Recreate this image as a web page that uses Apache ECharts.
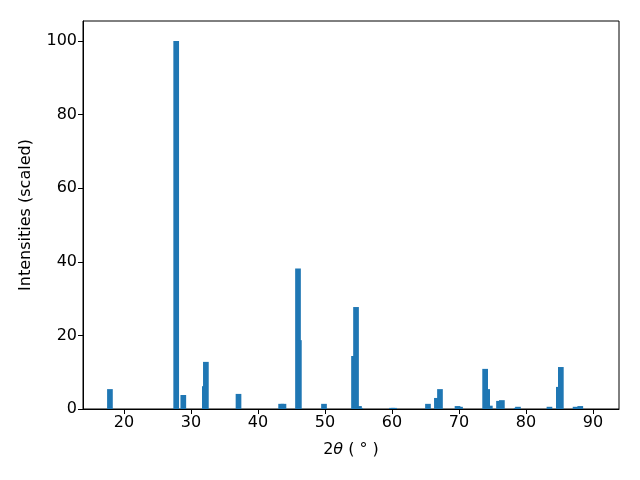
<!DOCTYPE html>
<html>
<head>
<meta charset="utf-8">
<script src="https://cdn.jsdelivr.net/npm/echarts@6/dist/echarts.min.js"></script>
<style>
html,body{margin:0;padding:0;background:#fff;}
#chart{width:640px;height:480px;}
</style>
</head>
<body>
<div id="chart"></div>
<script>
// Peak positions (2-theta, degrees)
const positions = [17.9, 27.79, 28.85, 32.07, 32.22, 37.09, 43.45, 43.8, 45.97, 46.1,
  49.85, 54.33, 54.63, 55.07, 55.2, 60.0, 60.3, 65.37, 66.7, 67.16,
  69.78, 70.15, 73.9, 74.2, 74.6, 75.97, 76.4, 78.6, 78.8, 83.5,
  84.9, 85.2, 87.4, 88.1];
// Scaled intensities
const intensities = [5.4, 100, 3.8, 6.2, 12.8, 4.1, 1.4, 1.4, 38.2, 18.7,
  1.4, 14.4, 27.7, 0.8, 0.3, 0.3, 0.3, 1.4, 3.0, 5.4,
  0.8, 0.6, 10.9, 5.4, 0.9, 2.2, 2.4, 0.3, 0.6, 0.6,
  6.0, 11.4, 0.6, 0.8];
const xTicks = [20, 30, 40, 50, 60, 70, 80, 90];
const yTicks = [0, 20, 40, 60, 80, 100];

const barWidth = 0.85;
const data = positions.map((p, i) => [p, intensities[i]]);
const font = 'DejaVu Sans';

const chart = echarts.init(document.getElementById('chart'), null, {renderer: 'canvas'});
chart.setOption({
  animation: false,
  backgroundColor: '#fff',
  grid: {left: 83, right: 21, top: 21, bottom: 71, show: true, borderColor: '#000', borderWidth: 1, backgroundColor: 'transparent'},
  xAxis: {
    type: 'value', min: 13.88, max: 93.88,
    name: '2{i|θ} ( ° )', nameLocation: 'middle', nameGap: 33,
    nameTextStyle: {fontFamily: font, fontSize: 16, color: '#000',
      rich: {i: {fontFamily: font, fontSize: 16, fontStyle: 'italic', color: '#000'}}},
    axisLine: {show: true, lineStyle: {color: '#000', width: 1}},
    axisTick: {show: true, length: 5, inside: false, customValues: xTicks, lineStyle: {color: '#000'}},
    axisLabel: {customValues: xTicks, fontFamily: font, fontSize: 16, color: '#000', margin: 6},
    splitLine: {show: false}
  },
  yAxis: {
    type: 'value', min: 0, max: 105.4,
    name: 'Intensities (scaled)', nameLocation: 'middle', nameGap: 49, nameRotate: 90,
    nameTextStyle: {fontFamily: font, fontSize: 16, color: '#000'},
    axisLine: {show: true, lineStyle: {color: '#000', width: 1}},
    axisTick: {show: true, length: 5, inside: false, customValues: yTicks, lineStyle: {color: '#000'}},
    axisLabel: {customValues: yTicks, fontFamily: font, fontSize: 16, color: '#000', margin: 6},
    splitLine: {show: false}
  },
  series: [{
    type: 'custom',
    data: data,
    encode: {x: 0, y: 1},
    renderItem: function (params, api) {
      const x = api.value(0), y = api.value(1);
      const p0 = api.coord([x - barWidth / 2, y]);
      const p1 = api.coord([x + barWidth / 2, 0]);
      return {
        type: 'rect',
        shape: {x: p0[0], y: p0[1], width: p1[0] - p0[0], height: p1[1] - p0[1]},
        style: {fill: '#1f77b4'}
      };
    }
  }]
});
</script>
</body>
</html>
